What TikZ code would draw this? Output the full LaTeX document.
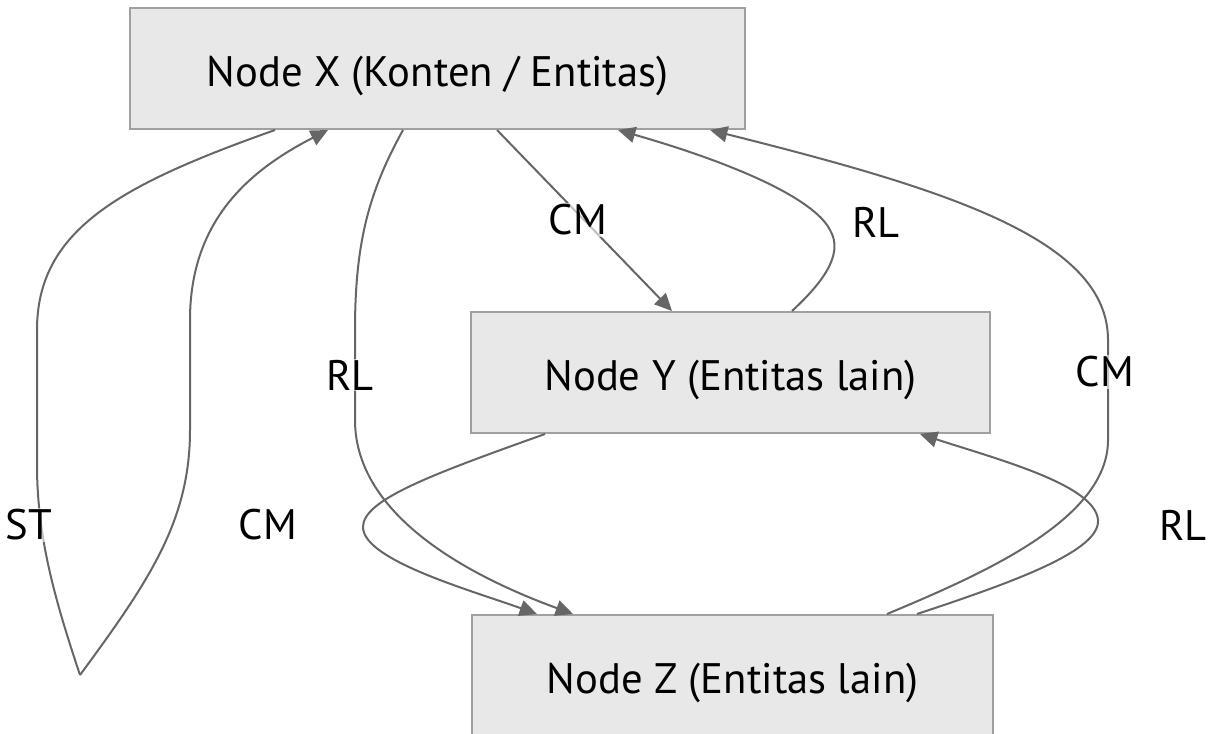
\documentclass[tikz,border=0pt]{standalone}
\usepackage{fontspec}
\setmainfont{PT Sans}
\usetikzlibrary{arrows.meta}
\definecolor{boxfill}{HTML}{E8E8E8}
\definecolor{boxline}{HTML}{A0A0A0}
\definecolor{edgecol}{HTML}{666666}
\tikzset{
  box/.style={draw=boxline, line width=1.5pt, fill=boxfill, rectangle, minimum height=90.75pt, inner sep=0pt, text height=26.9pt, text depth=0pt, font=\fontsize{32}{38}\selectfont},
  edge/.style={draw=edgecol, line width=1.5pt},
  arr/.style={edge, -{Triangle[length=13pt, width=12pt]}},
  elabel/.style={fill=white, fill opacity=0.6, text opacity=1, inner sep=1pt, font=\fontsize{32}{38}\selectfont}
}
\begin{document}
\begin{tikzpicture}[x=0.75pt, y=-0.75pt]
\useasboundingbox (0,0) rectangle (1212,733);
% nodes
\node[box, minimum width=461.25pt] (X) at (437.5,68.5) {Node X (Konten / Entitas)};
\node[box, minimum width=389.25pt] (Y) at (730.5,372.5) {Node Y (Entitas lain)};
\node[box, minimum width=390.75pt] (Z) at (732.5,675.5) {Node Z (Entitas lain)};
\coordinate (W) at (80,675);
% edges
\draw[edge] (X.south -| 275,0) .. controls (120,185) and (37,230) .. (37,330) -- (37,470) .. controls (38,540) and (55,600) .. (W);
\draw[arr] (W) .. controls (150,580) and (190,520) .. (190,430) -- (190,320) .. controls (190,220) and (250,170) .. (X.south -| 328,0);
\draw[arr] (X.south -| 403,0) .. controls (370,190) and (355,240) .. (355,330) -- (355,420) .. controls (355,520) and (480,580) .. (Z.north -| 573,0);
\draw[arr] (Y.south -| 545,0) .. controls (430,475) and (363,500) .. (363,527) .. controls (363,560) and (470,590) .. (Z.north -| 537,0);
\draw[arr] (X.south -| 497,0) -- (Y.north -| 672,0);
\draw[arr] (Y.north -| 792,0) .. controls (820,285) and (845,255) .. (830,230) .. controls (815,200) and (740,165) .. (X.south -| 618,0);
\draw[arr] (Z.north -| 887,0) .. controls (980,575) and (1108,520) .. (1108,440) -- (1108,340) .. controls (1108,240) and (950,190) .. (X.south -| 710,0);
\draw[arr] (Z.north -| 917,0) .. controls (1020,580) and (1100,550) .. (1098,520) .. controls (1095,485) and (1000,460) .. (Y.south -| 920,0);
% labels
\node[elabel] (l1) at (29,525) {ST};
\node[elabel] (l2) at (268,525) {CM};
\node[elabel] (l3) at (350,375) {RL};
\node[elabel] (l4) at (578,220) {CM};
\node[elabel] (l5) at (876,222) {RL};
\node[elabel] (l6) at (1105,372) {CM};
\node[elabel] (l7) at (1183,525) {RL};
\end{tikzpicture}
\end{document}
